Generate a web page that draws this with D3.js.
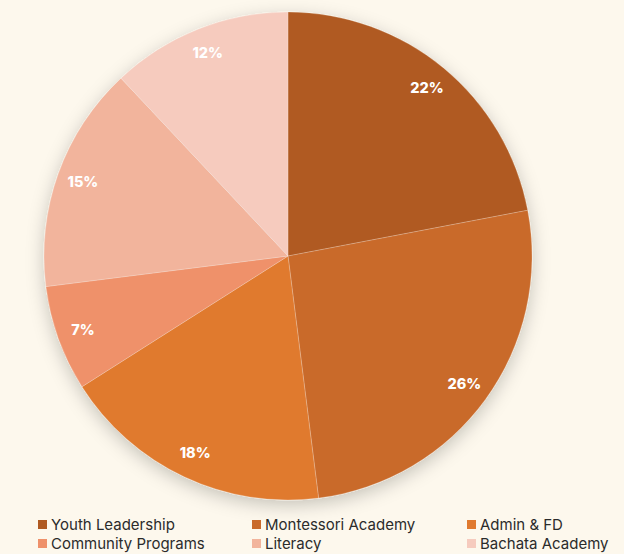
<!DOCTYPE html>
<html><head><meta charset="utf-8">
<script src="https://cdn.jsdelivr.net/npm/d3@7"></script>
<style>
html,body{margin:0;padding:0;background:#fdf8ed;}
svg{display:block;}
</style></head>
<body>
<svg id="chart" width="624" height="554"></svg>
<script>
const categories = ["Youth Leadership","Montessori Academy","Admin & FD","Community Programs","Literacy","Bachata Academy"];
const values = [22,26,18,7,15,12];
const colors = ["#b05a21","#c96a2b","#e07a2f","#ef916a","#f2b49c","#f6cbbe"];

const svg = d3.select("#chart");
const W = 624, H = 554;
const cx = 288, cy = 256, R = 244;

svg.append("rect").attr("width",W).attr("height",H).attr("fill","#fdf8ed");

const defs = svg.append("defs");
const f = defs.append("filter").attr("id","sh").attr("x","-20%").attr("y","-20%").attr("width","140%").attr("height","140%");
f.append("feDropShadow").attr("dx",0).attr("dy",5).attr("stdDeviation",9).attr("flood-color","#000").attr("flood-opacity",0.22);

const color = d3.scaleOrdinal().domain(categories).range(colors);
const pie = d3.pie().sort(null).value(d=>d.v);
const data = categories.map((c,i)=>({c, v:values[i]}));
const arcs = pie(data);
const arc = d3.arc().innerRadius(0).outerRadius(R);
const labelArc = d3.arc().innerRadius(218).outerRadius(218);

const g = svg.append("g").attr("transform",`translate(${cx},${cy})`);
g.append("g").attr("filter","url(#sh)")
 .selectAll("path").data(arcs).join("path")
 .attr("d",arc).attr("fill",d=>color(d.data.c))
 .attr("stroke","rgba(255,255,255,0.35)").attr("stroke-width",0.6);

g.selectAll("text.lbl").data(arcs).join("text").attr("class","lbl")
 .attr("transform",d=>`translate(${labelArc.centroid(d)})`)
 .attr("text-anchor","middle").attr("dy","0.35em")
 .attr("fill","#ffffff").attr("font-family","Inter, 'Noto Sans', sans-serif")
 .attr("font-weight",800).attr("font-size",14.5)
 .text(d=>d.data.v+"%");

// legend
const legX = [38,252,467], legY = [525,544];
const leg = svg.append("g").attr("font-family","Inter, 'Noto Sans', sans-serif").attr("font-size",15);
categories.forEach((c,i)=>{
  const x = legX[i%3], y = legY[Math.floor(i/3)];
  leg.append("rect").attr("x",x).attr("y",y-5).attr("width",9).attr("height",9).attr("fill",color(c));
  leg.append("text").attr("x",x+13).attr("y",y).attr("dy","0.35em").attr("fill","#2b2b2b").text(c);
});
</script>
</body></html>
